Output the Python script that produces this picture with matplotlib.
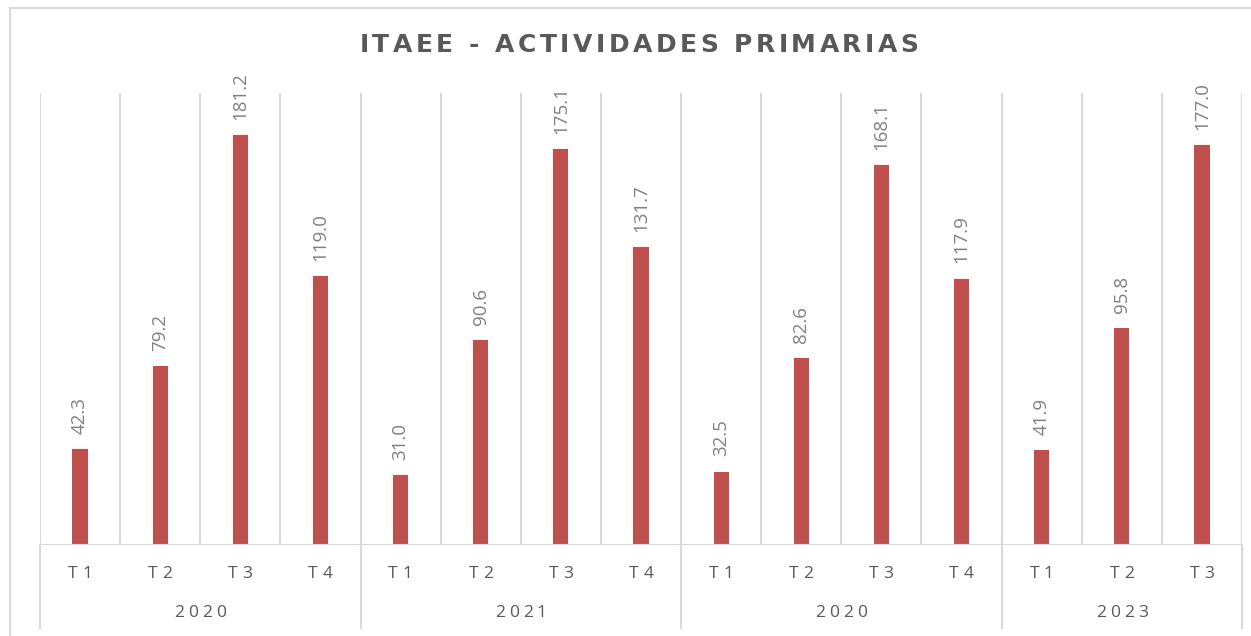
import matplotlib
matplotlib.use("Agg")
import matplotlib.pyplot as plt
from matplotlib.lines import Line2D
from matplotlib.font_manager import FontProperties

# data
years = ["2020", "2021", "2020", "2023"]
quarters_per_year = [4, 4, 4, 3]
quarters = ["T1", "T2", "T3", "T4", "T1", "T2", "T3", "T4",
            "T1", "T2", "T3", "T4", "T1", "T2", "T3"]
values = [42.3, 79.2, 181.2, 119.0, 31.0, 90.6, 175.1, 131.7,
          32.5, 82.6, 168.1, 117.9, 41.9, 95.8, 177.0]
title = "ITAEE - ACTIVIDADES PRIMARIAS"

bar_color = "#C0504D"
grid_color = "#D9D9D9"
text_color = "#595959"
label_color = "#808080"

W, H = 1251, 636
fig = plt.figure(figsize=(W / 100, H / 100), dpi=100)
ax = fig.add_axes([40 / W, 91 / H, 1202 / W, 452 / H])
renderer = fig.canvas.get_renderer()


def spaced_text(cx, cy, s, spacing, **kw):
    """Draw s centred at pixel (cx, cy from top) with extra letter spacing."""
    prop = FontProperties(family=kw.get("family"), size=kw.get("fontsize"),
                          weight=kw.get("fontweight", "normal"))
    widths = [renderer.get_text_width_height_descent(c, prop, ismath=False)[0] for c in s]
    total = sum(widths) + spacing * (len(s) - 1)
    left = cx - total / 2
    for c, w in zip(s, widths):
        fig.text(left / W, 1 - cy / H, c, ha="left", va="center", **kw)
        left += w + spacing


n = len(values)
x = list(range(n))
ax.bar(x, values, width=0.19, color=bar_color, zorder=3)
ax.set_xlim(-0.5, n - 0.5)
ax.set_ylim(0, 200)

for xi, v in zip(x, values):
    ax.annotate(f"{v:.1f}", (xi, v), xytext=(0, 11), textcoords="offset points",
                rotation=90, ha="center", va="bottom", fontsize=13.5,
                color=label_color, family="Open Sans")

# vertical gridlines at category boundaries
for b in range(n + 1):
    ax.axvline(b - 0.5, color=grid_color, lw=1.5, zorder=1)

for s in ax.spines.values():
    s.set_visible(False)
ax.axhline(0, color=grid_color, lw=1.5, zorder=4)
ax.set_xticks([])
ax.set_yticks([])


def xpix(xd):
    return ax.transData.transform((xd, 0))[0]


# category labels (quarters)
for xi, q in zip(x, quarters):
    spaced_text(xpix(xi), 574, q, 5, fontsize=12.5, color=text_color, family="Open Sans")

# year group labels and separators
start = 0
sep_depth = -83 / 452
ax.add_line(Line2D([-0.5, -0.5], [0, sep_depth], transform=ax.get_xaxis_transform(),
                   color=grid_color, lw=1.5, clip_on=False))
for yr, cnt in zip(years, quarters_per_year):
    mid = start + (cnt - 1) / 2
    spaced_text(xpix(mid), 613, yr, 4, fontsize=12.5, color=text_color, family="Open Sans")
    end = start + cnt - 0.5
    ax.add_line(Line2D([end, end], [0, sep_depth], transform=ax.get_xaxis_transform(),
                       color=grid_color, lw=1.5, clip_on=False))
    start += cnt

# outer chart border (only top and left visible in reference)
fig.add_artist(Line2D([10 / W, 1], [1 - 8 / H, 1 - 8 / H], color=grid_color, lw=1.5))
fig.add_artist(Line2D([10 / W, 10 / W], [1 - 8 / H, 0], color=grid_color, lw=1.5))

spaced_text(639, 45, title, 3.5, fontsize=18, fontweight="bold",
            color=text_color, family="DejaVu Sans")

fig.savefig("out.png", dpi=100)
